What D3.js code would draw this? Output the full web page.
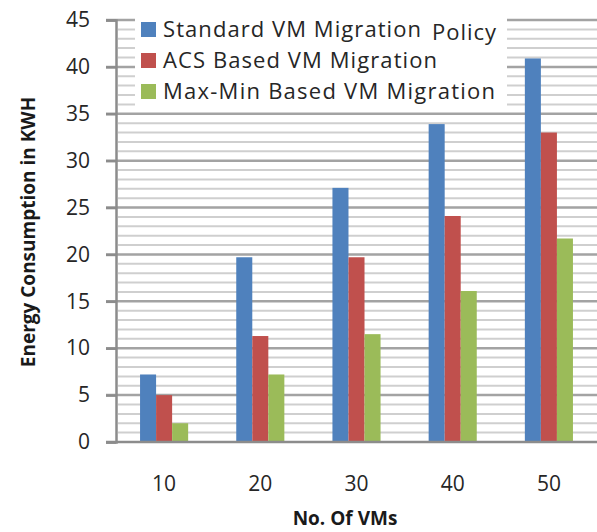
<!DOCTYPE html>
<html>
<head>
<meta charset="utf-8">
<script src="https://cdn.jsdelivr.net/npm/d3@7/dist/d3.min.js"></script>
</head>
<body style="margin:0">
<div id="chart"></div>
<script>
const categories = ['10', '20', '30', '40', '50'];
const seriesNames = ['Standard VM Migration', 'ACS Based VM Migration', 'Max-Min Based VM Migration'];
const standardVals = [7.2, 19.7, 27.1, 33.9, 40.9];
const acsVals = [5.0, 11.3, 19.7, 24.1, 33.0];
const maxMinVals = [2.0, 7.2, 11.5, 16.1, 21.7];
const yTicks = [0, 5, 10, 15, 20, 25, 30, 35, 40, 45];

const colors = ['#4f81bd', '#c0504d', '#9bbb59'];
const allSeries = [standardVals, acsVals, maxMinVals];

const W = 597, H = 532;
const plotLeft = 116, plotRight = 597, plotTop = 20, plotBottom = 442;

const svg = d3.select('#chart').append('svg')
    .attr('width', W)
    .attr('height', H)
    .attr('font-family', '"Open Sans", "Noto Sans", sans-serif');

const xScale = d3.scaleBand().domain(categories).range([plotLeft, plotRight])
    .paddingInner(0.5).paddingOuter(0.25);
const xSub = d3.scaleBand().domain(d3.range(seriesNames.length)).range([0, xScale.bandwidth()]);
const yScale = d3.scaleLinear().domain([0, 45]).range([plotBottom, plotTop]);

// gridlines as one path per kind
const minorVals = d3.range(1, 45).filter(v => v % 5 !== 0);
svg.append('path')
    .attr('d', minorVals.map(v => `M${plotLeft + 2},${yScale(v).toFixed(1)}H${plotRight}`).join(''))
    .attr('fill', 'none').attr('stroke', '#cfcfcf').attr('stroke-width', 2);
svg.append('path')
    .attr('d', yTicks.slice(1).map(v => `M${plotLeft - 10},${yScale(v).toFixed(1)}H${plotRight}`).join(''))
    .attr('fill', 'none').attr('stroke', '#a3a3a3').attr('stroke-width', 2.5);

// bars
const groups = svg.append('g').selectAll('g').data(categories).join('g')
    .attr('transform', d => `translate(${xScale(d)},0)`);
groups.selectAll('rect')
    .data((d, i) => allSeries.map((s, j) => ({ j, v: s[i] })))
    .join('rect')
    .attr('x', d => xSub(d.j))
    .attr('width', xSub.bandwidth())
    .attr('y', d => yScale(d.v))
    .attr('height', d => yScale(0) - yScale(d.v))
    .attr('fill', d => colors[d.j]);

// axes
const yAxis = svg.append('g').attr('transform', `translate(${plotLeft},0)`)
    .call(d3.axisLeft(yScale).tickValues(yTicks).tickSize(10).tickPadding(16));
yAxis.select('.domain').attr('stroke', '#8c8c8c').attr('stroke-width', 2.5);
yAxis.selectAll('.tick line').attr('stroke', '#8c8c8c').attr('stroke-width', 2.5);
yAxis.selectAll('.tick text').attr('font-size', 21).attr('fill', '#262626')
    .attr('font-family', '"Open Sans", sans-serif');

const xAxis = svg.append('g').attr('transform', `translate(0,${plotBottom})`)
    .call(d3.axisBottom(xScale).tickSize(0).tickPadding(34));
xAxis.select('.domain').attr('stroke', '#8c8c8c').attr('stroke-width', 2.5)
    .attr('d', `M${plotLeft - 10},0H${plotRight}`);
xAxis.selectAll('.tick text').attr('font-size', 21).attr('fill', '#262626')
    .attr('font-family', '"Open Sans", sans-serif');

// axis titles
svg.append('text')
    .attr('transform', `translate(35,232) rotate(-90)`)
    .attr('text-anchor', 'middle')
    .attr('font-size', 19).attr('font-weight', 'bold').attr('fill', '#1a1a1a')
    .text('Energy Consumption in KWH');
svg.append('text')
    .attr('x', 345).attr('y', 525)
    .attr('text-anchor', 'middle')
    .attr('font-size', 19).attr('font-weight', 'bold').attr('fill', '#1a1a1a')
    .text('No. Of VMs');

// legend
const legend = svg.append('g');
legend.append('rect')
    .attr('x', 135).attr('y', 14).attr('width', 372).attr('height', 95)
    .attr('fill', '#fff');
const items = legend.selectAll('g.item').data(seriesNames).join('g')
    .attr('class', 'item')
    .attr('transform', (d, i) => `translate(141,${22 + i * 31})`);
items.append('rect')
    .attr('width', 15).attr('height', 15)
    .attr('fill', (d, i) => colors[i]);
items.append('text')
    .attr('x', 22).attr('y', 15)
    .attr('font-size', 22).attr('fill', '#262626')
    .attr('textLength', (d, i) => [258, 274, 332][i])
    .text(d => d);
svg.append('text')
    .attr('x', 432).attr('y', 40)
    .attr('font-size', 22).attr('fill', '#262626')
    .attr('textLength', 64)
    .text('Policy');
</script>
</body>
</html>
